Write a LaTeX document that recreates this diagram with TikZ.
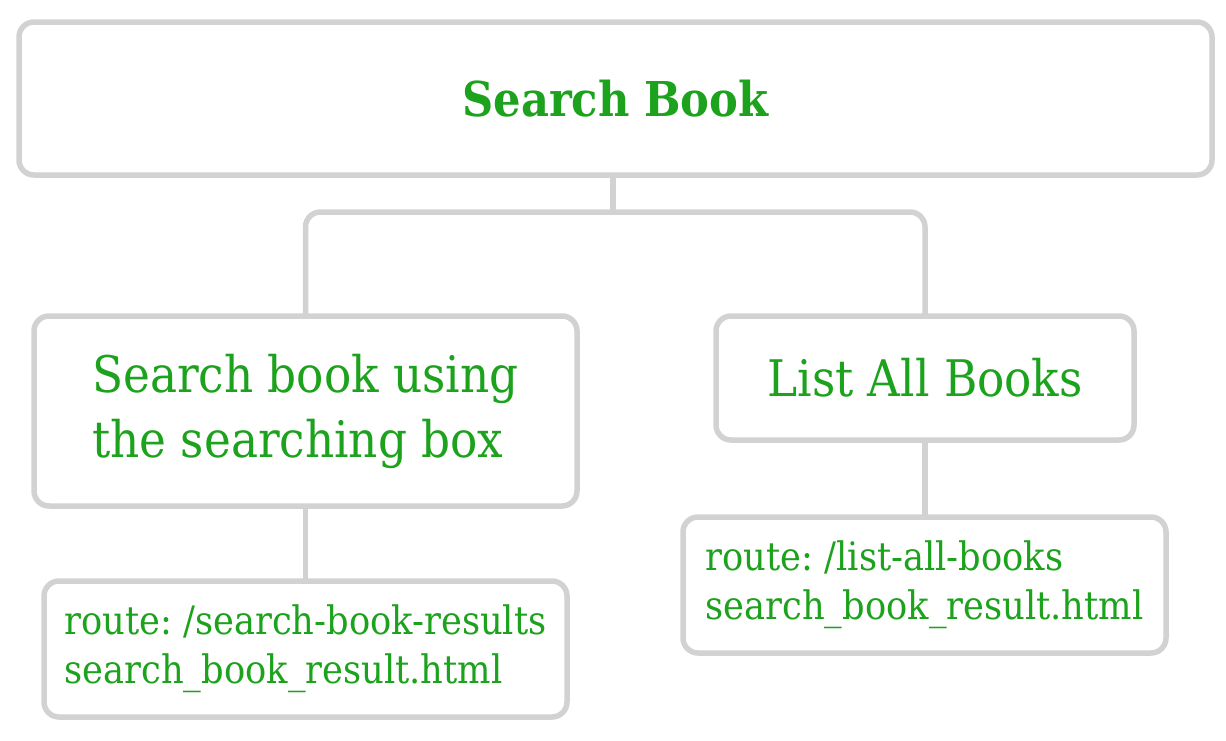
\documentclass[tikz,border=0pt]{standalone}
\usepackage{fontspec}
\setmainfont{DejaVu Serif Condensed}
\usetikzlibrary{positioning}

\definecolor{boxgray}{HTML}{D2D2D2}
\definecolor{textgreen}{HTML}{1CA21C}

\tikzset{
    pagebox/.style={draw=boxgray, line width=2.75pt, rounded corners=7.5pt, fill=white,
        text=textgreen, outer sep=0pt, align=left},
    bigtext/.style={font=\fontsize{25.2}{32.5}\selectfont},
    titletext/.style={font=\fontsize{24}{30}\selectfont\bfseries},
    routetext/.style={font=\frenchspacing\fontsize{19.6}{24.5}\selectfont},
    link/.style={draw=boxgray, line width=2.75pt, rounded corners=7.5pt}
}

\begin{document}
\begin{tikzpicture}[x=0.5pt, y=-0.5pt]
    \useasboundingbox (0,0) rectangle (1226,740);
    % top level page
    \node[pagebox, titletext, minimum width=596.5pt, minimum height=76.5pt] (search) at (615.5,98.5) {Search Book};
    % second level
    \node[pagebox, bigtext, minimum width=271.5pt, minimum height=95pt] (usebox) at (305.5,411) {Search book using\\the searching box};
    \node[pagebox, bigtext, minimum width=209pt, minimum height=62pt] (listall) at (925,378) {List All Books};
    % routes
    \node[pagebox, routetext, minimum width=261.5pt, minimum height=68pt] (route1) at (305.5,649) {route: /search-book-results\\search\_book\_result.html};
    \node[pagebox, routetext, minimum width=241.5pt, minimum height=68pt] (route2) at (924.5,585) {route: /list-all-books\\search\_book\_result.html};

    \coordinate (fork) at (613,212);
    \draw[link] (search.south -| fork) -- (fork);
    \draw[link] (usebox.north) |- (fork) -| (listall.north);
    \draw[link] (usebox.south) -- (usebox.south |- route1.north);
    \draw[link] (listall.south) -- (listall.south |- route2.north);
\end{tikzpicture}
\end{document}
